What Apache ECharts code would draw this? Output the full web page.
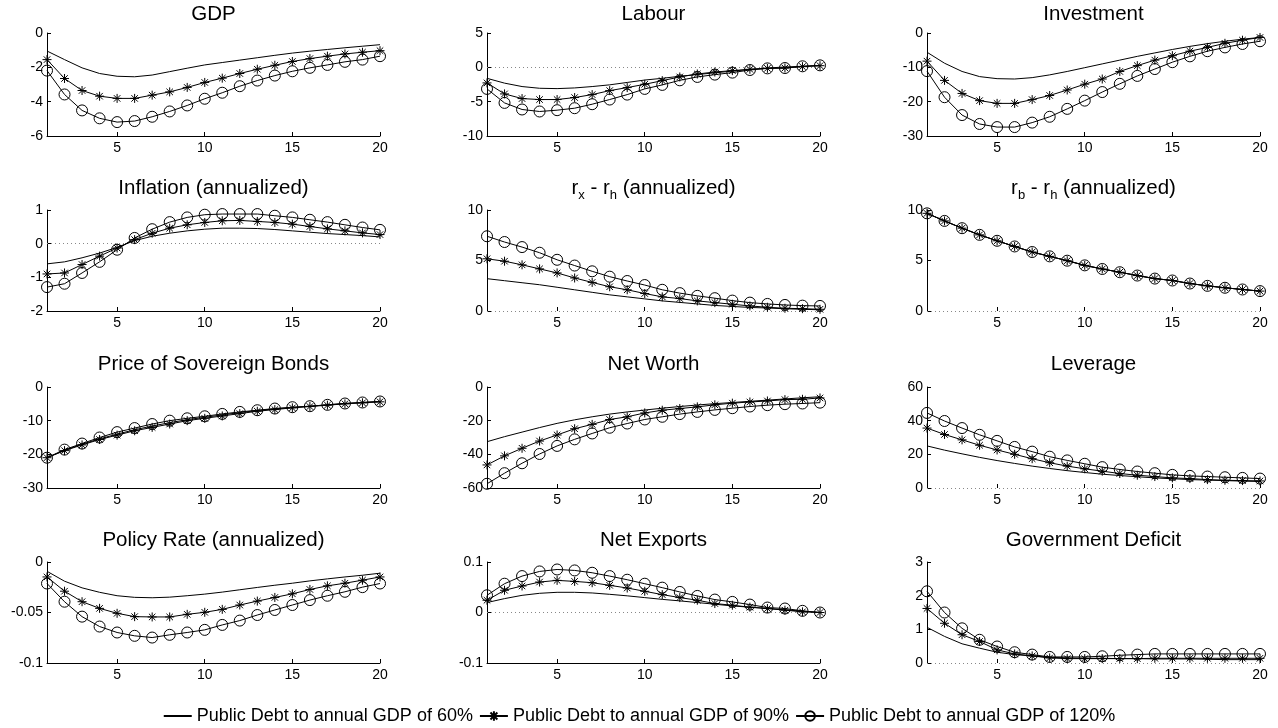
<!DOCTYPE html>
<html><head><meta charset="utf-8">
<script src="https://cdn.jsdelivr.net/npm/echarts@6/dist/echarts.min.js"></script>
<style>html,body{margin:0;padding:0;background:#fff}#c{width:1278px;height:728px}</style>
</head><body><div id="c"></div>
<script>
const periods = [1,2,3,4,5,6,7,8,9,10,11,12,13,14,15,16,17,18,19,20];
const xTickLabels = [5,10,15,20];
const seriesNames = ['Public Debt to annual GDP of 60%','Public Debt to annual GDP of 90%','Public Debt to annual GDP of 120%'];
const panelTitles = ['{n|GDP}','{n|Labour}','{n|Investment}',
  '{n|Inflation (annualized)}','{n|r}{s|x}{n| - r}{s|h}{n| (annualized)}','{n|r}{s|b}{n| - r}{s|h}{n| (annualized)}',
  '{n|Price of Sovereign Bonds}','{n|Net Worth}','{n|Leverage}',
  '{n|Policy Rate (annualized)}','{n|Net Exports}','{n|Government Deficit}'];
const yMin  = [-6,-10,-30, -2,0,0, -30,-60,0, -0.1,-0.1,0];
const yMax  = [0,5,0, 1,10,10, 0,0,60, 0,0.1,3];
const yStep = [2,5,10, 1,5,5, 10,20,20, 0.05,0.1,1];

const gdp60 = [-1.05,-1.55,-2.03,-2.36,-2.52,-2.55,-2.45,-2.25,-2.05,-1.86,-1.72,-1.58,-1.44,-1.3,-1.17,-1.06,-0.96,-0.86,-0.77,-0.68];
const gdp90 = [-1.55,-2.65,-3.35,-3.68,-3.81,-3.81,-3.62,-3.43,-3.17,-2.88,-2.63,-2.36,-2.11,-1.88,-1.66,-1.49,-1.35,-1.22,-1.12,-1.03];
const gdp120 = [-2.19,-3.58,-4.51,-4.97,-5.19,-5.13,-4.88,-4.57,-4.22,-3.83,-3.48,-3.1,-2.77,-2.48,-2.23,-2.03,-1.86,-1.68,-1.55,-1.35];

const lab60 = [-1.6,-2.3,-2.8,-3.05,-3.1,-3.0,-2.8,-2.55,-2.2,-1.85,-1.6,-1.3,-1.05,-0.8,-0.55,-0.3,-0.1,0.05,0.15,0.25];
const lab90 = [-2.27,-3.87,-4.55,-4.69,-4.69,-4.4,-3.97,-3.39,-2.95,-2.47,-1.94,-1.4,-0.97,-0.68,-0.48,-0.29,-0.15,-0.1,0.1,0.24];
const lab120 = [-3.14,-5.18,-6.14,-6.43,-6.24,-5.95,-5.37,-4.69,-3.97,-3.14,-2.56,-1.89,-1.4,-1.06,-0.77,-0.39,-0.15,-0.1,0.15,0.29];

const inv60 = [-5.6,-8.8,-11.2,-12.7,-13.3,-13.4,-13.0,-12.2,-11.2,-10.1,-9.0,-7.9,-6.8,-5.8,-4.8,-3.9,-3.1,-2.4,-1.8,-1.3];
const inv90 = [-8.2,-13.8,-17.6,-19.7,-20.5,-20.5,-19.4,-18.2,-16.6,-14.9,-13.4,-11.2,-9.5,-7.9,-6.6,-5.3,-4.2,-3.0,-2.1,-1.3];
const inv120 = [-11.1,-18.7,-23.9,-26.5,-27.4,-27.4,-26.1,-24.4,-22.1,-19.7,-17.2,-14.8,-12.5,-10.5,-8.5,-6.8,-5.3,-4.2,-3.2,-2.4];

const inf60 = [-0.6,-0.54,-0.42,-0.28,-0.11,0.09,0.22,0.31,0.38,0.43,0.46,0.46,0.45,0.42,0.38,0.34,0.3,0.27,0.24,0.2];
const inf90 = [-0.9,-0.87,-0.62,-0.37,-0.13,0.12,0.31,0.46,0.56,0.63,0.68,0.69,0.66,0.63,0.58,0.51,0.44,0.38,0.32,0.27];
const inf120 = [-1.29,-1.19,-0.87,-0.54,-0.18,0.17,0.43,0.64,0.78,0.86,0.88,0.88,0.88,0.83,0.78,0.71,0.64,0.56,0.48,0.41];

const rx60 = [3.2,3.0,2.8,2.6,2.35,2.1,1.85,1.6,1.4,1.2,1.0,0.85,0.7,0.55,0.45,0.35,0.3,0.22,0.17,0.12];
const rx90 = [5.17,4.93,4.57,4.17,3.77,3.27,2.83,2.4,2.1,1.73,1.4,1.23,1.0,0.83,0.67,0.5,0.37,0.27,0.23,0.17];
const rx120 = [7.4,6.83,6.33,5.77,5.07,4.5,3.93,3.4,2.97,2.57,2.1,1.77,1.5,1.27,1.03,0.83,0.7,0.6,0.53,0.5];

const rb60 = [9.67,8.92,8.2,7.54,6.95,6.39,5.84,5.41,4.98,4.52,4.16,3.84,3.51,3.21,3.02,2.72,2.49,2.3,2.13,1.97];
const rb90 = [9.67,8.92,8.2,7.54,6.95,6.39,5.84,5.41,4.98,4.52,4.16,3.84,3.51,3.21,3.02,2.72,2.49,2.3,2.13,1.97];
const rb120 = [9.67,8.92,8.2,7.54,6.95,6.39,5.84,5.41,4.98,4.52,4.16,3.84,3.51,3.21,3.02,2.72,2.49,2.3,2.13,1.97];

const pr60 = [-21.0,-18.8,-17.0,-15.4,-14.0,-12.7,-11.6,-10.6,-9.7,-9.0,-8.3,-7.6,-7.0,-6.5,-6.1,-5.7,-5.3,-4.9,-4.6,-4.3];
const pr90 = [-21.0,-18.9,-17.2,-15.6,-14.3,-13.0,-12.0,-11.0,-10.0,-9.3,-8.6,-7.9,-7.2,-6.7,-6.2,-5.8,-5.4,-5.0,-4.7,-4.4];
const pr120 = [-21.0,-18.6,-16.8,-15.0,-13.4,-12.2,-11.0,-10.0,-9.3,-8.7,-8.0,-7.4,-6.9,-6.4,-6.0,-5.7,-5.3,-4.9,-4.6,-4.3];

const nw60 = [-32.5,-29.5,-26.8,-24.1,-21.6,-19.5,-17.7,-16.1,-14.8,-13.7,-12.6,-11.6,-10.7,-9.9,-9.2,-8.5,-7.8,-7.1,-6.4,-5.8];
const nw90 = [-46.3,-40.9,-36.4,-32.1,-28.5,-24.8,-22.2,-19.3,-17.7,-15.4,-13.8,-12.8,-11.8,-10.6,-9.6,-8.9,-8.3,-7.5,-7.3,-6.5];
const nw120 = [-57.5,-51.2,-45.3,-39.8,-35.0,-31.1,-27.6,-24.2,-21.7,-19.3,-17.7,-16.1,-14.8,-13.6,-12.6,-11.6,-10.8,-10.2,-9.8,-9.3];

const lev60 = [25,22.5,20.3,18.2,16.3,14.6,13.0,11.6,10.3,9.2,8.2,7.4,6.7,6.0,5.5,5.0,4.7,4.4,4.1,3.9];
const lev90 = [35.6,31.8,28.6,25.4,22.6,20,17.4,15,13,11.4,10,8.6,7.6,6.8,6,5.6,5,4.6,4.4,4.2];
const lev120 = [44.6,39.8,35.6,31.6,28,24.4,21.6,18.6,16.4,14.4,12.4,11,9.8,8.8,7.8,7.2,6.8,6.4,6,5.6];

const pol60 = [-0.0092,-0.019,-0.0256,-0.030,-0.0334,-0.035,-0.0354,-0.0348,-0.0334,-0.0318,-0.0298,-0.0275,-0.0252,-0.023,-0.021,-0.0187,-0.0167,-0.0148,-0.0131,-0.0111];
const pol90 = [-0.0148,-0.0289,-0.0393,-0.0459,-0.0508,-0.0541,-0.0544,-0.0544,-0.0518,-0.0498,-0.0469,-0.0426,-0.0387,-0.0351,-0.0315,-0.0272,-0.0236,-0.021,-0.018,-0.0148];
const pol120 = [-0.0213,-0.0393,-0.0541,-0.0639,-0.0698,-0.0731,-0.0748,-0.0721,-0.0698,-0.0672,-0.0623,-0.058,-0.0525,-0.0475,-0.0426,-0.0377,-0.0334,-0.0295,-0.0249,-0.0213];

const nx60 = [0.0197,0.0275,0.034,0.038,0.040,0.040,0.0387,0.036,0.033,0.0295,0.026,0.023,0.0197,0.0164,0.013,0.0105,0.008,0.0052,0.0026,0.0];
const nx90 = [0.0243,0.044,0.0525,0.0603,0.0636,0.0616,0.059,0.0538,0.0485,0.042,0.0354,0.0295,0.0243,0.0177,0.0144,0.0105,0.0079,0.0046,0.0013,0.0];
const nx120 = [0.0341,0.057,0.0721,0.0813,0.0852,0.0833,0.0787,0.0721,0.0649,0.057,0.0492,0.0407,0.0328,0.0256,0.021,0.0157,0.0098,0.0079,0.0033,0.0];

const def60 = [1.06,0.79,0.57,0.44,0.32,0.25,0.21,0.17,0.15,0.14,0.14,0.13,0.13,0.12,0.12,0.12,0.11,0.1,0.1,0.1];
const def90 = [1.62,1.18,0.84,0.64,0.39,0.27,0.21,0.15,0.13,0.13,0.13,0.13,0.13,0.14,0.14,0.14,0.14,0.14,0.14,0.14];
const def120 = [2.13,1.5,1.03,0.69,0.49,0.32,0.25,0.18,0.18,0.18,0.2,0.23,0.25,0.27,0.27,0.27,0.27,0.27,0.27,0.27];

const panels = [
  [gdp60,gdp90,gdp120],[lab60,lab90,lab120],[inv60,inv90,inv120],
  [inf60,inf90,inf120],[rx60,rx90,rx120],[rb60,rb90,rb120],
  [pr60,pr90,pr120],[nw60,nw90,nw120],[lev60,lev90,lev120],
  [pol60,pol90,pol120],[nx60,nx90,nx120],[def60,def90,def120]
];

const FONT = 'Liberation Sans, Arial, Helvetica, sans-serif';
const colLeft = [47, 487, 927];
const colWidth = 333;
const rowTop = [33, 210, 387, 562];
const rowHeight = [103, 101, 101, 101];
const titleCenterY = [16, 190, 366, 542];
const STAR = 'path://M0,-5L0,5M-5,0L5,0M-3.6,-3.6L3.6,3.6M-3.6,3.6L3.6,-3.6';

const grids = [], xAxes = [], yAxes = [], titles = [], series = [];
panels.forEach((p, i) => {
  const r = Math.floor(i / 3), c = i % 3;
  grids.push({left: colLeft[c], top: rowTop[r], width: colWidth, height: rowHeight[r], containLabel: false, outerBoundsMode: 'none'});
  titles.push({
    text: panelTitles[i], left: colLeft[c] + colWidth / 2, top: titleCenterY[r] - 12, textAlign: 'center', padding: 0,
    textStyle: {fontWeight: 'normal', rich: {
      n: {fontSize: 20.5, fontFamily: FONT, fontWeight: 'normal', color: '#000', lineHeight: 24, verticalAlign: 'top'},
      s: {fontSize: 13, fontFamily: FONT, fontWeight: 'normal', color: '#000', lineHeight: 13, verticalAlign: 'bottom', padding: [18, 0, 0, 0]}
    }}
  });
  const zeroBottom = yMin[i] === 0;
  xAxes.push({
    gridIndex: i, type: 'value', min: 1, max: 20,
    axisLine: {show: !zeroBottom, onZero: false, lineStyle: {color: '#000', width: 1}},
    axisTick: {show: true, inside: true, length: 4, customValues: xTickLabels, lineStyle: {color: '#000'}},
    axisLabel: {customValues: xTickLabels, fontSize: 14, color: '#000', fontFamily: FONT, margin: 5},
    splitLine: {show: false}
  });
  yAxes.push({
    gridIndex: i, type: 'value', min: yMin[i], max: yMax[i], interval: yStep[i],
    axisLine: {show: true, onZero: false, lineStyle: {color: '#000', width: 1}},
    axisTick: {show: true, inside: true, length: 4, lineStyle: {color: '#000'}},
    axisLabel: {fontSize: 14, color: '#000', fontFamily: FONT, margin: 4},
    splitLine: {show: false}
  });
  const needZero = yMin[i] <= 0 && yMax[i] > 0;
  p.forEach((vals, k) => {
    const s = {
      name: seriesNames[k], type: 'line', xAxisIndex: i, yAxisIndex: i, clip: false,
      data: periods.map((x, j) => [x, vals[j]]),
      lineStyle: {color: '#000', width: 1},
      emphasis: {disabled: true}, silent: true, z: 3 + k
    };
    if (k === 0) { s.symbol = 'none'; s.itemStyle = {color: '#000'}; }
    if (k === 1) { s.symbol = STAR; s.symbolSize = 9; s.itemStyle = {color: '#000', borderColor: '#000', borderWidth: 1}; }
    if (k === 2) { s.symbol = 'circle'; s.symbolSize = 11; s.itemStyle = {color: 'rgba(0,0,0,0)', borderColor: '#000', borderWidth: 1}; }
    if (k === 0 && needZero) {
      s.markLine = {silent: true, symbol: ['none','none'], label: {show: false},
        lineStyle: {type: [1, 3], color: '#888', width: 1}, data: [{yAxis: 0}], z: 1};
    }
    series.push(s);
  });
});

const chart = echarts.init(document.getElementById('c'), null, {renderer: 'canvas'});
chart.setOption({
  animation: false,
  backgroundColor: '#fff',
  title: titles,
  grid: grids, xAxis: xAxes, yAxis: yAxes,
  legend: {
    data: [
      {name: seriesNames[0], itemStyle: {opacity: 0}},
      {name: seriesNames[1]},
      {name: seriesNames[2]}
    ],
    top: 702, left: 'center', itemWidth: 28, itemHeight: 12, itemGap: 6,
    textStyle: {fontSize: 18, color: '#000', fontFamily: FONT}, selectedMode: false
  },
  series: series
});
</script></body></html>
